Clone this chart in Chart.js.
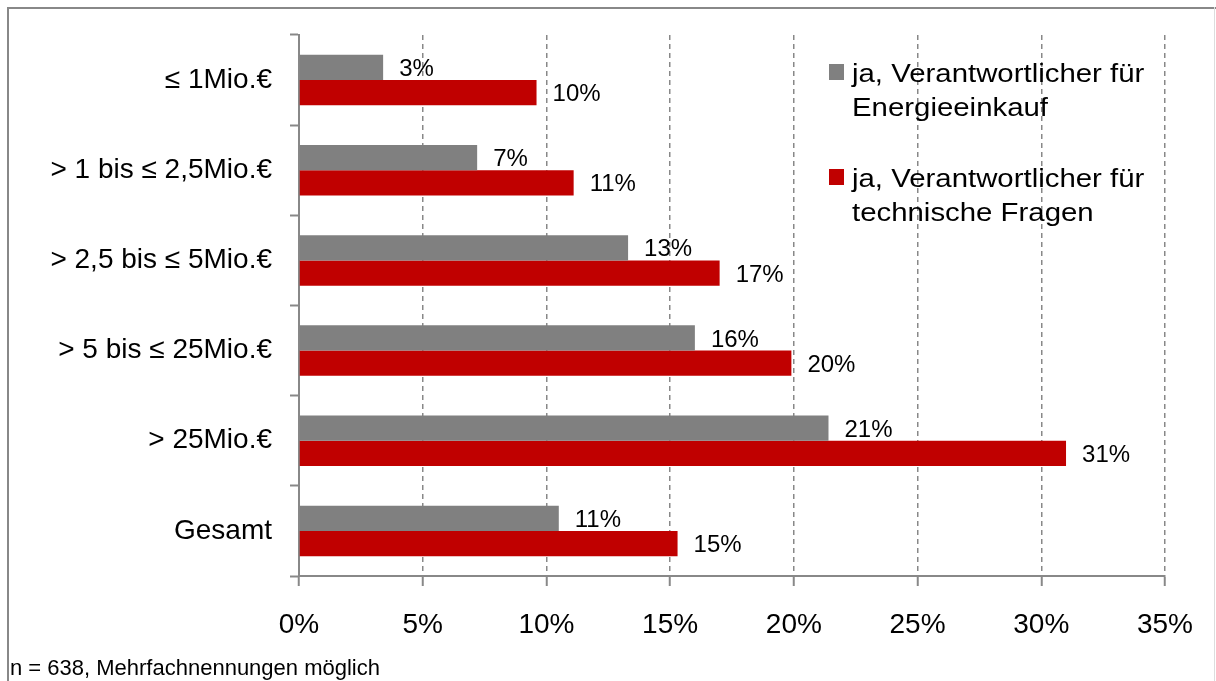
<!DOCTYPE html>
<html>
<head>
<meta charset="utf-8">
<script src="https://cdn.jsdelivr.net/npm/chart.js@4.4.1/dist/chart.umd.min.js"></script>
<style>
  html, body { margin: 0; padding: 0; background: #fff; }
  #wrap { position: relative; width: 1216px; height: 681px; overflow: hidden; font-family: "Liberation Sans", Arial, sans-serif; }
  #frame { position: absolute; left: 7px; top: 7px; width: 1220px; height: 700px; border-left: 2px solid #888; border-top: 2px solid #888; box-sizing: border-box; }
  #frameR { position: absolute; left: 1214px; top: 7px; width: 1px; height: 700px; background: #ddd; }
  canvas { position: absolute; left: 0; top: 0; }
  .leg { position: absolute; left: 852px; font-size: 26px; line-height: 34px; color: #000; white-space: nowrap; transform: scaleX(1.13); transform-origin: left top; }
  .sw { position: absolute; width: 15px; height: 16px; left: 829px; }
  #note { position: absolute; left: 10px; top: 654px; font-size: 22px; line-height: 28px; color: #000; white-space: nowrap; }
</style>
</head>
<body>
<div id="wrap">
  <div id="frame"></div>
  <div id="frameR"></div>
  <canvas id="c" width="1216" height="681"></canvas>
  <div id="legend"></div>
  <div id="note"></div>
</div>
<script>
const categories = ["≤ 1Mio.€", "> 1 bis ≤ 2,5Mio.€", "> 2,5 bis ≤ 5Mio.€", "> 5 bis ≤ 25Mio.€", "> 25Mio.€", "Gesamt"];
const seriesNames = ["ja, Verantwortlicher für\nEnergieeinkauf", "ja, Verantwortlicher für\ntechnische Fragen"];
const energieeinkauf = [3.4, 7.2, 13.3, 16.0, 21.4, 10.5];
const technischeFragen = [9.6, 11.1, 17.0, 19.9, 31.0, 15.3];
const xTicks = [0, 5, 10, 15, 20, 25, 30, 35];
const footnote = "n = 638, Mehrfachnennungen möglich";
const colors = ["#808080", "#C00000"];

const FONT = '"Liberation Sans", Arial, sans-serif';

const valueLabels = {
  id: 'valueLabels',
  afterDatasetsDraw(chart) {
    const ctx = chart.ctx;
    ctx.save();
    ctx.font = '24px ' + FONT;
    ctx.fillStyle = '#000';
    ctx.textAlign = 'left';
    ctx.textBaseline = 'middle';
    chart.data.datasets.forEach((ds, di) => {
      chart.getDatasetMeta(di).data.forEach((bar, i) => {
        ctx.fillText(Math.round(ds.data[i]) + '%', bar.x + 16, bar.y + 2);
      });
    });
    ctx.restore();
  }
};

new Chart(document.getElementById('c'), {
  type: 'bar',
  data: {
    labels: categories,
    datasets: [
      { label: seriesNames[0], data: energieeinkauf, backgroundColor: colors[0], categoryPercentage: 0.56, barPercentage: 1.0 },
      { label: seriesNames[1], data: technischeFragen, backgroundColor: colors[1], categoryPercentage: 0.56, barPercentage: 1.0 }
    ]
  },
  options: {
    indexAxis: 'y',
    responsive: false,
    animation: false,
    layout: { padding: { left: 0, right: 51, top: 35, bottom: 45 } },
    plugins: { legend: { display: false }, tooltip: { enabled: false } },
    scales: {
      x: {
        min: 0, max: 35,
        afterBuildTicks(scale) { scale.ticks = xTicks.map(v => ({ value: v })); },
        afterFit(scale) { scale.height = 60; },
        ticks: { callback: v => v + '%', font: { size: 28, family: FONT }, color: '#000', padding: 22, maxRotation: 0 },
        grid: { color: '#888', lineWidth: 1.5, tickLength: 10, tickColor: '#888', tickWidth: 2 },
        border: { display: true, color: '#888', width: 2, dash: [5, 4] }
      },
      y: {
        afterFit(scale) { scale.width = 299; },
        ticks: { font: { size: 28, family: FONT }, color: '#000', padding: 18 },
        grid: { drawOnChartArea: false, offset: true, tickLength: 9, tickColor: '#888', tickWidth: 2, color: '#888' },
        border: { display: true, color: '#888', width: 2 }
      }
    }
  },
  plugins: [valueLabels]
});

// HTML legend and footnote
const legend = document.getElementById('legend');
const legTops = [56, 161];
seriesNames.forEach((name, i) => {
  const sw = document.createElement('div');
  sw.className = 'sw';
  sw.style.top = (legTops[i] + 8) + 'px';
  sw.style.background = colors[i];
  legend.appendChild(sw);
  const t = document.createElement('div');
  t.className = 'leg';
  t.style.top = legTops[i] + 'px';
  t.innerHTML = name.split('\n').join('<br>');
  legend.appendChild(t);
});
document.getElementById('note').textContent = footnote;
</script>
</body>
</html>
